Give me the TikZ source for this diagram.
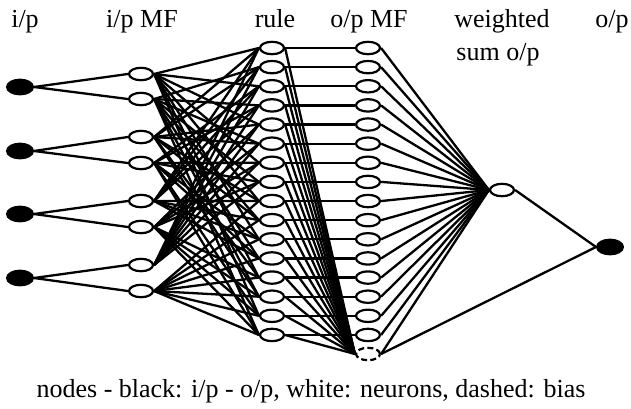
\documentclass[tikz,border=0pt]{standalone}
\usepackage{fontspec}
\setmainfont{Liberation Serif}
\usetikzlibrary{shapes.geometric,backgrounds}
\begin{document}
\begin{tikzpicture}[x=0.5pt,y=-0.5pt,
 neuron/.style={ellipse,draw,fill=white,minimum width=12pt,minimum height=6.2pt,inner sep=0pt,line width=1.1pt},
 ionode/.style={ellipse,draw,fill=black,minimum width=13pt,minimum height=7.4pt,inner sep=0pt,line width=1pt},
 biasnode/.style={neuron,dash pattern=on 3pt off 1.6pt},
 lbl/.style={font=\fontsize{13}{15}\selectfont,inner sep=0pt,anchor=base},
 conn/.style={line width=1.15pt}]
\useasboundingbox (0,0) rectangle (631,408);
% inputs
\foreach \i/\y in {1/87,2/151,3/214,4/278}
  \node[ionode] (in\i) at (20,\y) {};
% input MFs
\foreach \i/\y in {1/74,2/99,3/137,4/163,5/201,6/227,7/265,8/291}
  \node[neuron] (mf\i) at (141,\y) {};
% rules and output MFs
\foreach \k in {1,...,16}{
  \node[neuron] (r\k) at (272,{48+19.13*(\k-1)}) {};
  \node[neuron] (om\k) at (368,{48+19.13*(\k-1)}) {};
}
\node[biasnode] (bias) at (368,354) {};
\node[neuron] (ws) at (502,190) {};
\node[ionode] (out) at (610,247) {};
% labels
\node[lbl] (t1) at (25,27) {i/p};
\node[lbl] (t2) at (142,27) {i/p MF};
\node[lbl] (t3) at (275,27) {rule};
\node[lbl] (t4) at (369,27) {o/p MF};
\node[lbl] (t5) at (502,27) {weighted};
\node[lbl] (t6) at (498,60) {sum o/p};
\node[lbl] (t7) at (612,27) {o/p};
\node[lbl] (cap) at (311,397) {nodes - black: i/p - o/p, white: neurons, dashed: bias};
\begin{scope}[on background layer]
\foreach \i in {1,...,4}{
  \pgfmathtruncatemacro\a{2*\i-1}
  \pgfmathtruncatemacro\b{2*\i}
  \draw[conn] (in\i.east) -- (mf\a.west);
  \draw[conn] (in\i.east) -- (mf\b.west);
}
\foreach \k in {1,...,16}{
  \foreach \j in {0,...,3}{
    \pgfmathtruncatemacro\m{2*\j+1+mod(floor((\k-1)/pow(2,\j)),2)}
    \draw[conn] (mf\m.east) -- (r\k.west);
  }
  \draw[conn] (r\k.east) -- (om\k.west);
  \draw[conn] (r\k.east) -- (bias.west);
  \draw[conn] (om\k.east) -- (ws.west);
}
\draw[conn] (bias.east) -- (ws.west);
\draw[conn] (bias.east) -- (out.west);
\draw[conn] (ws.east) -- (out.west);
\end{scope}
\end{tikzpicture}
\end{document}
